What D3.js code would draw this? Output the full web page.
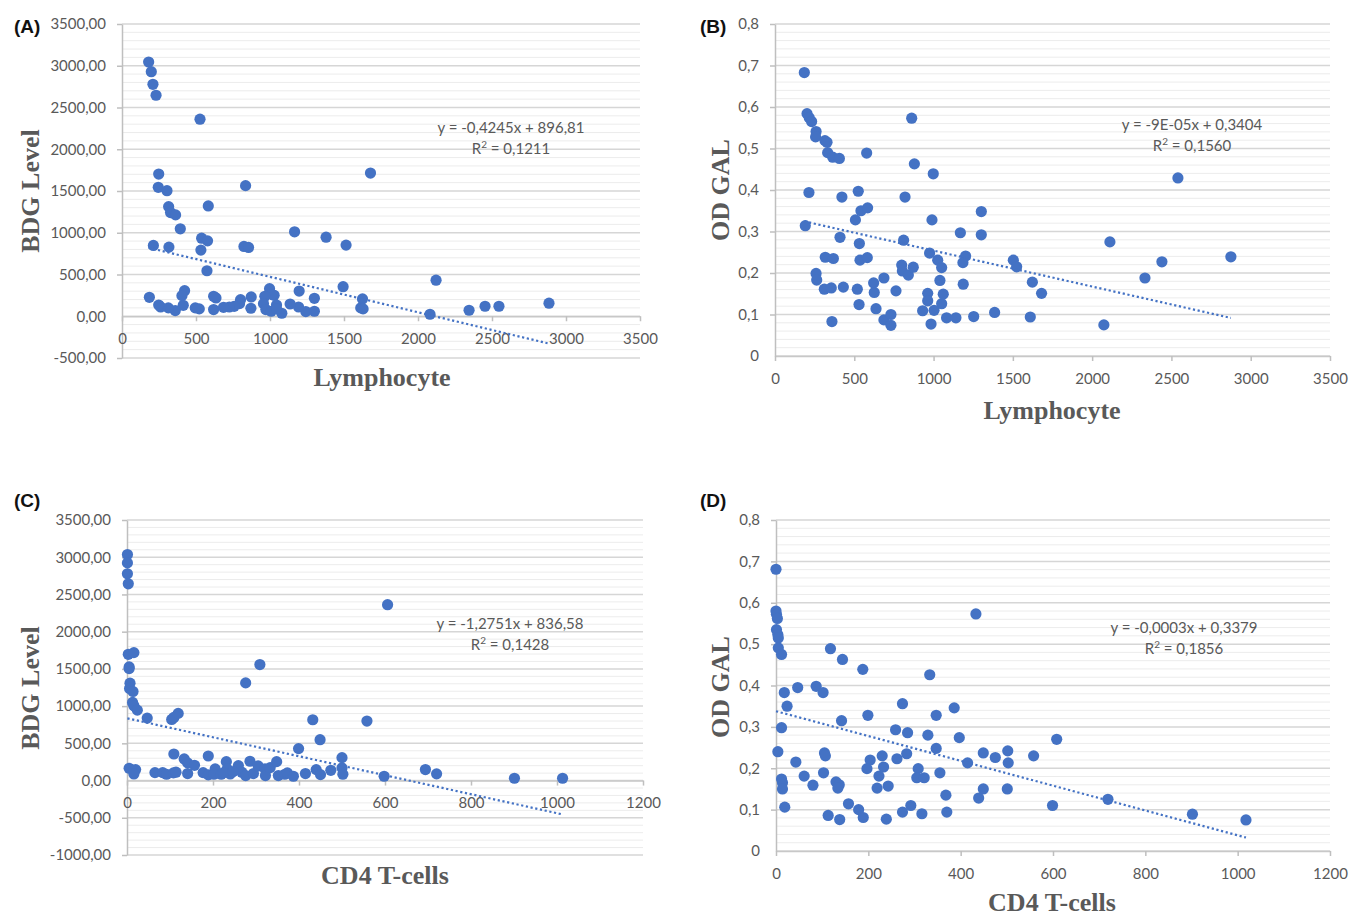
<!DOCTYPE html>
<html>
<head>
<meta charset="utf-8">
<script src="https://d3js.org/d3.v7.min.js"></script>
<style>
body { margin:0; background:#fff; }
text { font-family: Lato, "Open Sans", sans-serif; }
</style>
</head>
<body>
<div id="chart"></div>
<script>

// Panel A: Lymphocyte vs BDG level
var lymphA = [180,198,209,230,527,248,245,304,315,328,362,394,835,583,212,317,538,578,533,574,
              824,855,1166,1379,1514,1679,1494,1197,1625,1613,1629,1300,1300,1242,1193,1136,1080,1044,1028,997,
              1015,965,956,972,1008,1044,871,873,801,794,758,725,686,635,619,619,522,495,423,405,
              414,360,313,261,248,185,2081,2122,2345,2453,2547,2885];
var bdgA = [3045,2929,2778,2647,2360,1703,1544,1504,1313,1242,1214,1047,1564,1321,848,828,935,903,792,545,
            836,824,1011,947,852,1715,354,302,207,100,88,215,60,56,111,147,36,135,251,330,
            259,239,151,80,60,88,96,231,199,151,119,111,107,219,239,80,88,100,306,247,
            131,68,100,111,135,227,24,432,72,120,120,156];

// Panel B: Lymphocyte vs OD GAL
var lymphB = [185,202,216,231,259,256,315,328,332,364,406,578,862,879,998,214,422,525,820,191,
              507,542,584,990,1301,1301,1169,410,532,811,975,1026,1051,1202,1185,1503,1524,1623,1681,317,
              368,536,582,259,263,311,355,431,519,530,622,626,687,763,637,687,731,731,799,803,
              841,872,963,963,1040,1061,1051,931,1003,984,1082,1141,1253,1187,1385,1610,359,
              2112,2074,2333,2440,2541,2875];
var galB = [0.683,0.584,0.574,0.565,0.541,0.528,0.519,0.515,0.490,0.479,0.476,0.489,0.573,0.463,0.439,0.394,0.383,0.397,0.383,0.314,
            0.328,0.350,0.357,0.328,0.348,0.292,0.297,0.286,0.271,0.279,0.248,0.231,0.213,0.241,0.225,0.231,0.215,0.178,0.151,0.238,
            0.235,0.231,0.237,0.199,0.183,0.161,0.164,0.166,0.161,0.124,0.176,0.153,0.188,0.157,0.114,0.087,0.100,0.074,0.219,0.205,
            0.195,0.214,0.151,0.133,0.182,0.149,0.126,0.109,0.110,0.077,0.092,0.092,0.095,0.173,0.105,0.094,0.083,
            0.275,0.075,0.188,0.227,0.429,0.239];

// Panel C: CD4 T-cells vs BDG level
var cd4C = [1,1,1,3,606,3,16,5,5,7,6,14,13,16,24,47,104,109,119,276,
            309,432,558,449,399,500,500,502,474,440,450,415,598,109,133,141,157,189,5,16,
            20,16,65,83,92,108,114,141,177,189,205,202,219,231,233,240,259,267,276,286,
            294,305,321,322,333,348,352,367,373,387,224,247,694,720,901,1013];
var bdgC = [3036,2924,2777,2643,2362,1696,1719,1527,1504,1308,1237,1196,1049,1004,946,839,821,848,902,1312,
            1558,817,799,549,429,308,170,85,138,147,80,94,58,357,290,237,205,330,165,138,
            147,89,107,107,85,103,112,94,107,76,156,85,85,254,156,89,201,112,67,259,
            94,196,156,67,174,254,67,85,103,58,103,120,148,90,31,31];

// Panel D: CD4 T-cells vs OD GAL
var cd4D = [0,0,1,3,1,4,5,5,12,118,144,188,333,433,18,47,87,102,24,142,
            199,274,347,386,12,259,285,329,397,4,347,105,107,43,204,230,197,233,262,283,
            415,449,475,502,503,558,608,12,14,14,61,80,103,130,137,134,223,219,243,308,
            305,321,355,368,449,439,501,19,113,138,157,179,189,239,274,292,316,370,599,
            719,902,1018];
var galD = [0.681,0.580,0.572,0.562,0.535,0.523,0.515,0.491,0.475,0.489,0.463,0.439,0.426,0.573,0.383,0.395,0.398,0.383,0.350,0.315,
            0.328,0.356,0.328,0.346,0.298,0.293,0.286,0.280,0.274,0.240,0.248,0.237,0.230,0.215,0.220,0.230,0.199,0.203,0.223,0.235,
            0.213,0.237,0.226,0.242,0.213,0.230,0.270,0.174,0.165,0.150,0.181,0.159,0.189,0.167,0.160,0.152,0.181,0.152,0.157,0.199,
            0.177,0.177,0.189,0.135,0.150,0.128,0.150,0.106,0.086,0.076,0.114,0.100,0.081,0.077,0.094,0.110,0.090,0.094,0.110,
            0.125,0.089,0.075];

// Tick values
var lymphTicks = [0,500,1000,1500,2000,2500,3000,3500];
var cd4Ticks = [0,200,400,600,800,1000,1200];
var bdgTicksA = [-500,0,500,1000,1500,2000,2500,3000,3500];
var bdgTicksC = [-1000,-500,0,500,1000,1500,2000,2500,3000,3500];
var galTicks = [0,0.1,0.2,0.3,0.4,0.5,0.6,0.7,0.8];

// Trendlines (A, B, C, D)
var trendSlope = [-0.4245, -0.0000865, -1.2751, -0.0003];
var trendIntercept = [896.81, 0.3404, 836.58, 0.3379];
var eqLabels = ["y = -0,4245x + 896,81", "y = -9E-05x + 0,3404", "y = -1,2751x + 836,58", "y = -0,0003x + 0,3379"];
var r2Labels = ["0,1211", "0,1560", "0,1428", "0,1856"];

var dotColor = "#4472C4";
var textGray = "#595959";

var loc = d3.formatLocale({decimal: ",", thousands: ".", grouping: [3], currency: ["", ""], minus: "-"});
var fmt2 = loc.format(".2f");
var fmt1 = loc.format(".1f");
var galFmt = function(v) { return v === 0 ? "0" : fmt1(v); };
var intFmt = loc.format("d");

var svg = d3.select("#chart").append("svg")
    .attr("width", 1359)
    .attr("height", 917);

var panels = [
  {id:"(A)", lx:14, ly:33, xs:lymphA, ys:bdgA, xDomain:[0,3500], yDomain:[-500,3500], xTicks:lymphTicks, yTicks:bdgTicksA,
   yFmt:fmt2, minor:100, left:122, right:640, top:24, bottom:358, xTitle:"Lymphocyte", yTitle:"BDG Level",
   xtX:382, xtY:386, ytX:39, ytY:191, eqX:511, eqY:133, k:0},
  {id:"(B)", lx:700, ly:33, xs:lymphB, ys:galB, xDomain:[0,3500], yDomain:[0,0.8], xTicks:lymphTicks, yTicks:galTicks,
   yFmt:galFmt, minor:0.02, left:775, right:1330, top:24, bottom:356, xTitle:"Lymphocyte", yTitle:"OD GAL",
   xtX:1052, xtY:419, ytX:729, ytY:190, eqX:1192, eqY:130, k:1},
  {id:"(C)", lx:14, ly:507, xs:cd4C, ys:bdgC, xDomain:[0,1200], yDomain:[-1000,3500], xTicks:cd4Ticks, yTicks:bdgTicksC,
   yFmt:fmt2, minor:100, left:127, right:643, top:520, bottom:855, xTitle:"CD4 T-cells", yTitle:"BDG Level",
   xtX:385, xtY:884, ytX:39, ytY:688, eqX:510, eqY:629, k:2},
  {id:"(D)", lx:700, ly:507, xs:cd4D, ys:galD, xDomain:[0,1200], yDomain:[0,0.8], xTicks:cd4Ticks, yTicks:galTicks,
   yFmt:galFmt, minor:0.02, left:776, right:1330, top:520, bottom:851, xTitle:"CD4 T-cells", yTitle:"OD GAL",
   xtX:1052, xtY:911, ytX:729, ytY:687, eqX:1184, eqY:633, k:3}
];

panels.forEach(drawPanel);

function drawPanel(p) {
  var x = d3.scaleLinear().domain(p.xDomain).range([p.left, p.right]);
  var y = d3.scaleLinear().domain(p.yDomain).range([p.bottom, p.top]);
  var g = svg.append("g");

  // minor gridlines
  var nMinor = Math.round((p.yDomain[1] - p.yDomain[0]) / p.minor);
  var minorVals = d3.range(0, nMinor + 1).filter(function(i) { return i % 5 !== 0; })
      .map(function(i) { return p.yDomain[0] + i * p.minor; });
  g.selectAll(".minor").data(minorVals).enter().append("line")
    .attr("x1", p.left).attr("x2", p.right)
    .attr("y1", function(d) { return y(d); }).attr("y2", function(d) { return y(d); })
    .style("stroke", "#ececec").style("stroke-width", 1);

  // major gridlines
  g.selectAll(".major").data(p.yTicks).enter().append("line")
    .attr("x1", p.left).attr("x2", p.right)
    .attr("y1", function(d) { return y(d); }).attr("y2", function(d) { return y(d); })
    .style("stroke", "#d6d6d6").style("stroke-width", 1.5);

  // y axis
  var yAxis = g.append("g")
    .attr("transform", "translate(" + x(0) + ",0)")
    .call(d3.axisLeft(y).tickValues(p.yTicks).tickFormat(p.yFmt).tickSize(5).tickSizeOuter(0).tickPadding(11));
  // x axis at y = 0
  var xAxis = g.append("g")
    .attr("transform", "translate(0," + y(0) + ")")
    .call(d3.axisBottom(x).tickValues(p.xTicks).tickFormat(intFmt).tickSize(5).tickSizeOuter(0).tickPadding(12));

  [yAxis, xAxis].forEach(function(a) {
    a.select(".domain").style("stroke", "#bfbfbf").style("stroke-width", 1.5);
    a.selectAll(".tick line").style("stroke", "#bfbfbf").style("stroke-width", 1.5);
    a.selectAll(".tick text").style("fill", textGray).style("font-size", "15px")
      .style("font-family", "Lato, 'Open Sans', sans-serif");
  });
  xAxis.select(".domain").style("stroke", "#c8c8c8");
  yAxis.selectAll(".tick line").filter(function(d) { return d === 0; }).remove();

  // points
  g.selectAll(".dot").data(p.xs).enter().append("circle")
    .attr("cx", function(d) { return x(d); })
    .attr("cy", function(d, i) { return y(p.ys[i]); })
    .attr("r", 5.6)
    .style("fill", dotColor);

  // linear trendline across the data range
  var ext = d3.extent(p.xs);
  var line = d3.line().x(function(d) { return x(d); })
    .y(function(d) { return y(trendSlope[p.k] * d + trendIntercept[p.k]); });
  g.append("path")
    .attr("d", line(ext))
    .style("fill", "none")
    .style("stroke", dotColor)
    .style("stroke-width", 2.2)
    .style("stroke-dasharray", "2.2,2.6");

  // equation
  g.append("text")
    .text(eqLabels[p.k])
    .attr("x", p.eqX).attr("y", p.eqY)
    .style("text-anchor", "middle")
    .style("fill", textGray)
    .style("font-size", "15px");
  var r2 = g.append("text")
    .attr("x", p.eqX).attr("y", p.eqY + 21)
    .style("text-anchor", "middle")
    .style("fill", textGray)
    .style("font-size", "15px");
  r2.append("tspan").text("R");
  r2.append("tspan").text("2").attr("dy", -6).style("font-size", "10px");
  r2.append("tspan").text(" = " + r2Labels[p.k]).attr("dy", 6);

  // axis titles
  g.append("text")
    .text(p.xTitle)
    .attr("x", p.xtX).attr("y", p.xtY)
    .style("text-anchor", "middle")
    .style("font-family", "'Liberation Serif', 'Times New Roman', serif")
    .style("font-weight", "bold")
    .style("font-size", "26px")
    .style("fill", textGray);
  g.append("text")
    .text(p.yTitle)
    .attr("transform", "translate(" + p.ytX + "," + p.ytY + ") rotate(-90)")
    .style("text-anchor", "middle")
    .style("font-family", "'Liberation Serif', 'Times New Roman', serif")
    .style("font-weight", "bold")
    .style("font-size", "26px")
    .style("fill", textGray);

  // panel label
  g.append("text")
    .text(p.id)
    .attr("x", p.lx).attr("y", p.ly)
    .style("font-family", "'Liberation Sans', Arial, sans-serif")
    .style("font-weight", "bold")
    .style("font-size", "19px")
    .style("fill", "#111");
}

</script>
</body>
</html>
